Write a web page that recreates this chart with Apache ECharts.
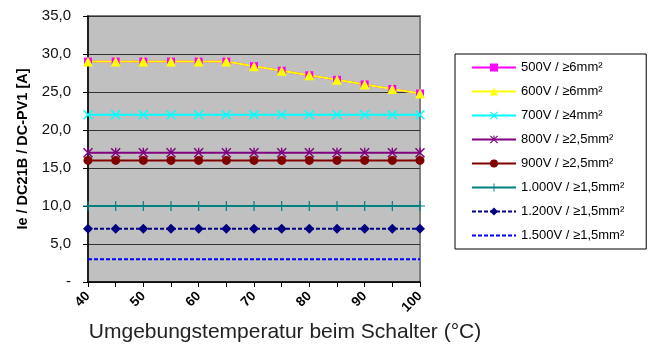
<!DOCTYPE html>
<html>
<head>
<meta charset="utf-8">
<script src="https://cdn.jsdelivr.net/npm/echarts@6/dist/echarts.min.js"></script>
<style>
  html, body { margin: 0; padding: 0; background: #fff; }
  #chart { width: 651px; height: 346px; }
</style>
</head>
<body>
<div id="chart"></div>
<script>
var temps = ['40', '45', '50', '55', '60', '65', '70', '75', '80', '85', '90', '95', '100'];
var names = ['500V / ≥6mm²', '600V / ≥6mm²', '700V / ≥4mm²', '800V / ≥2,5mm²', '900V / ≥2,5mm²', '1.000V / ≥1,5mm²', '1.200V / ≥1,5mm²', '1.500V / ≥1,5mm²'];
var v500 = [29, 29, 29, 29, 29, 29, 28.4, 27.8, 27.2, 26.6, 26.0, 25.4, 24.8];
var v600 = [29, 29, 29, 29, 29, 29, 28.4, 27.8, 27.2, 26.6, 26.0, 25.4, 24.8];
var v700 = [22, 22, 22, 22, 22, 22, 22, 22, 22, 22, 22, 22, 22];
var v800 = [17, 17, 17, 17, 17, 17, 17, 17, 17, 17, 17, 17, 17];
var v900 = [16, 16, 16, 16, 16, 16, 16, 16, 16, 16, 16, 16, 16];
var v1000 = [10, 10, 10, 10, 10, 10, 10, 10, 10, 10, 10, 10, 10];
var v1200 = [7, 7, 7, 7, 7, 7, 7, 7, 7, 7, 7, 7, 7];
var v1500 = [3, 3, 3, 3, 3, 3, 3, 3, 3, 3, 3, 3, 3];

var font = '"Liberation Sans", Arial, sans-serif';
var xMark = 'path://M0,1L1,0L5,4L9,0L10,1L6,5L10,9L9,10L5,6L1,10L0,9L4,5Z';
var plusMark = 'path://M4.4,0H5.6V4.4H10V5.6H5.6V10H4.4V5.6H0V4.4H4.4Z';
var starMark = 'path://M0,1L1,0L4.3,3.3V0H5.7V3.3L9,0L10,1L6,5L10,9L9,10L5,6L1,10L0,9L4,5Z';

function line(name, data, color, symbol, size, dashed) {
    return {
        name: name,
        type: 'line',
        data: data,
        symbol: symbol,
        symbolSize: size,
        lineStyle: { color: color, width: 2, type: dashed ? [4, 2] : 'solid' },
        itemStyle: { color: color },
        emphasis: { disabled: true },
        animation: false
    };
}

var legendData = names.map(function (n, i) {
    // last series has no marker
    return i === 7 ? { name: n, itemStyle: { opacity: 0 } } : { name: n };
});

var myChart = echarts.init(document.getElementById('chart'));
var option = {
    animation: false,
    textStyle: { fontFamily: font },
    grid: {
        left: 88, right: 231, top: 16, bottom: 64,
        outerBoundsMode: 'none',
        show: true, backgroundColor: '#c0c0c0', borderColor: '#808080', borderWidth: 2
    },
    legend: {
        orient: 'vertical',
        left: 455, top: 54,
        padding: [7, 22, 7, 16],
        itemWidth: 44, itemHeight: 10, itemGap: 11,
        backgroundColor: '#fff',
        borderColor: '#000', borderWidth: 1, borderRadius: 0,
        textStyle: { fontSize: 13, color: '#000', fontFamily: font },
        data: legendData
    },
    xAxis: {
        type: 'category',
        data: temps,
        boundaryGap: false,
        axisLine: { lineStyle: { color: '#000', width: 1.5 } },
        axisTick: { show: true, interval: 0, length: 5, lineStyle: { color: '#000' } },
        axisLabel: { interval: 1, rotate: 45, margin: 12, fontSize: 13.5, fontWeight: 'bold', color: '#000' },
        name: 'Umgebungstemperatur beim Schalter (°C)',
        nameLocation: 'middle',
        nameGap: 40,
        nameTextStyle: { fontSize: 21, color: '#222', padding: [0, 0, 0, 62] }
    },
    yAxis: {
        type: 'value',
        min: 0, max: 35, interval: 5,
        axisLine: { show: true, lineStyle: { color: '#000', width: 1.5 } },
        axisTick: { show: true, length: 5, lineStyle: { color: '#000' } },
        axisLabel: {
            margin: 17, fontSize: 15, color: '#111',
            formatter: function (v) { return v === 0 ? '-' : v.toFixed(1).replace('.', ','); }
        },
        splitLine: { lineStyle: { color: '#333', width: 1.2 } },
        name: 'Ie / DC21B / DC-PV1 [A]',
        nameLocation: 'middle',
        nameGap: 58,
        nameTextStyle: { fontSize: 14.5, fontWeight: 'bold', color: '#000' }
    },
    series: [
        line(names[0], v500, '#ff00ff', 'rect', 8),
        line(names[1], v600, '#ffff00', 'triangle', 10),
        line(names[2], v700, '#00ffff', xMark, 10),
        line(names[3], v800, '#800080', starMark, 10),
        line(names[4], v900, '#800000', 'circle', 9),
        line(names[5], v1000, '#008080', plusMark, 10),
        line(names[6], v1200, '#000080', 'diamond', 10, true),
        line(names[7], v1500, '#0000ff', 'none', 0, true)
    ]
};
myChart.setOption(option, true);
</script>
</body>
</html>
